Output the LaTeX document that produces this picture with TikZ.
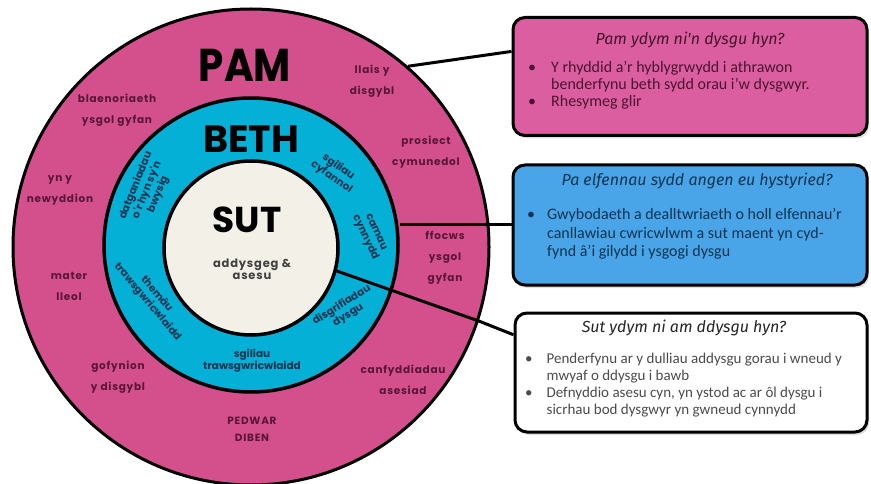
\documentclass[tikz,border=0pt]{standalone}
\usepackage{fontspec}
\setmainfont{Carlito}
\newfontfamily\ringfont{Poppins}[LetterSpace=7]
\newfontfamily\cyanfont{Poppins}
\newfontfamily\bigfont{Poppins}
\newfontfamily\headfont{Fira Sans}
\usetikzlibrary{positioning,shadows}

\definecolor{ringpink}{HTML}{D4508D}
\definecolor{boxpink}{HTML}{DB5FA0}
\definecolor{ringcyan}{HTML}{05B0D6}
\definecolor{boxblue}{HTML}{4AA5E8}
\definecolor{cream}{HTML}{F3F0E8}
\definecolor{plum}{HTML}{5A1638}
\definecolor{navy}{HTML}{0A3552}

\tikzset{
	ring/.style={circle, draw=black, inner sep=0pt},
	lbl/.style={font=\ringfont\bfseries\fontsize{10.5}{21}\selectfont, text=plum, align=center, inner sep=0pt},
	clbl/.style={font=\cyanfont\bfseries\fontsize{10.5}{12}\selectfont, text=navy, align=center, inner sep=0pt},
	big/.style={font=\bigfont\bfseries, text=black, inner sep=0pt},
	infobox/.style={draw=black, line width=3pt, rounded corners=12pt, minimum width=354pt, minimum height=118pt,
		drop shadow={shadow xshift=2pt, shadow yshift=-3pt, opacity=0.25}},
	headtxt/.style={font=\headfont\itshape\fontsize{16}{18}\selectfont, inner sep=0pt},
	bodytxt/.style={font=\fontsize{16}{17}\selectfont, anchor=base west, inner sep=0pt},
	link/.style={draw=black, line width=3pt}
}

\begin{document}
\begin{tikzpicture}[x=1pt,y=-1pt]
	\useasboundingbox (0,0) rectangle (871,484);
	\node[ring, fill=ringpink, line width=3pt, minimum size=476pt] (outer) at (251,247) {};
	\node[ring, fill=ringcyan, line width=3.5pt, minimum size=294pt] (midring) at (251,245) {};
	\node[ring, fill=cream, line width=3.5pt, minimum size=174pt] (inner) at (251,248) {};

	\node[infobox, fill=boxpink] (pambox) at (690,76.5) {};
	\node[infobox, fill=boxblue, minimum height=120pt] (bethbox) at (690,225) {};
	\node[infobox, fill=white, minimum width=352pt, minimum height=119pt] (sutbox) at (691,372.5) {};

	\draw[link] (outer.49) -- (pambox.172);
	\draw[link] (midring.east |- bethbox.west) -- (bethbox.west);
	\coordinate (bend) at (outer.-18);
	\draw[link] (inner.-15) -- (bend) -- (sutbox.168);

	\node[big, font=\bigfont\bfseries\fontsize{46}{46}\selectfont, xscale=0.88] (pam) at (245,65) {PAM};
	\node[big, font=\bigfont\bfseries\fontsize{38}{38}\selectfont] (beth) at (251,139) {BETH};
	\node[big, font=\bigfont\bfseries\fontsize{36}{36}\selectfont] (sut) at (247,220) {SUT};
	\node[lbl, text=black!75, font=\ringfont\bfseries\fontsize{11.5}{12}\selectfont] (addysgeg) at (252,269) {addysgeg \&\\asesu};

	\node[lbl] (llais) at (372,81) {llais y\\disgybl};
	\node[lbl] (blaen) at (117,110) {blaenoriaeth\\ysgol gyfan};
	\node[lbl] (prosiect) at (426,152) {prosiect\\cymunedol};
	\node[lbl] (newydd) at (60,190) {yn y\\newyddion};
	\node[lbl] (mater) at (69,286) {mater\\lleol};
	\node[lbl] (ffocws) at (445,258) {ffocws\\ysgol\\gyfan};
	\node[lbl] (gofynion) at (118,377) {gofynion\\y disgybl};
	\node[lbl] (canfydd) at (403,380) {canfyddiadau\\asesiad};
	\node[lbl, font=\ringfont\bfseries\fontsize{10.5}{17}\selectfont] (pedwar) at (252,429) {PEDWAR\\DIBEN};

	\node[clbl, rotate=-35] (cyfannol) at (335,172) {sgiliau\\cyfannol};
	\node[clbl, rotate=-65] (camau) at (370,235) {camau\\cynnydd};
	\node[clbl, rotate=32] (disgrif) at (345,310) {disgrifiadau\\dysgu};
	\node[clbl] (sgiliau) at (252,361) {sgiliau\\trawsgwricwlaidd};
	\node[clbl, rotate=-50] (themau) at (152,298) {themâu\\trawsgwricwlaidd};
	\node[clbl, rotate=68] (datgan) at (147,190) {datganiadau\\o'r hyn sy'n\\bwysig};

	\node[headtxt, text=plum!80!black] (pamhead) at (690,40) {Pam ydym ni'n dysgu hyn?};
	\node[bodytxt, text=plum!85!black] (pambody) at (528,73) {\begin{tabular}[t]{@{}l@{\hspace{15pt}}l@{}}
		\textbullet & Y rhyddid a'r hyblygrwydd i athrawon\\
		& benderfynu beth sydd orau i'w dysgwyr.\\
		\textbullet & Rhesymeg glir
	\end{tabular}};

	\node[headtxt, text=navy] (bethhead) at (697,181) {Pa elfennau sydd angen eu hystyried?};
	\node[bodytxt, font=\fontsize{16}{18}\selectfont, text=navy] (bethbody) at (527,220) {\begin{tabular}[t]{@{}l@{\hspace{12pt}}l@{}}
		\textbullet & Gwybodaeth a dealltwriaeth o holl elfennau'r\\
		& canllawiau cwricwlwm a sut maent yn cyd-\\
		& fynd â'i gilydd i ysgogi dysgu
	\end{tabular}};

	\node[headtxt, text=black!85] (suthead) at (684,328) {Sut ydym ni am ddysgu hyn?};
	\node[bodytxt, font=\fontsize{15}{17}\selectfont, text=black!70] (sutbody) at (525,363) {\begin{tabular}[t]{@{}l@{\hspace{14pt}}l@{}}
		\textbullet & Penderfynu ar y dulliau addysgu gorau i wneud y\\
		& mwyaf o ddysgu i bawb\\
		\textbullet & Defnyddio asesu cyn, yn ystod ac ar ôl dysgu i\\
		& sicrhau bod dysgwyr yn gwneud cynnydd
	\end{tabular}};
\end{tikzpicture}
\end{document}
